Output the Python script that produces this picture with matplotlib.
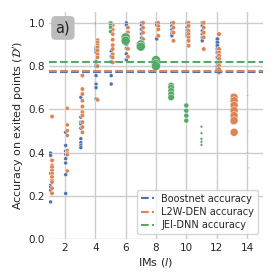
import matplotlib
matplotlib.use("Agg")
import matplotlib.pyplot as plt
import seaborn as sns

# accuracy of each exited point, grouped by IM (l = 1..14)
ims = list(range(1, 15))

boost_acc = [
    [0.398, 0.387, 0.304, 0.249, 0.241, 0.226, 0.172],
    [0.494, 0.433, 0.407, 0.392, 0.372, 0.352, 0.298, 0.211],
    [0.656, 0.564, 0.541, 0.533, 0.513, 0.464, 0.446, 0.433, 0.423],
    [0.886, 0.879, 0.871, 0.863, 0.82, 0.805, 0.799, 0.756, 0.717, 0.70, 0.648],
    [1.0, 0.99, 0.87, 0.845, 0.82, 0.756, 0.717],
    [1.0, 0.99, 0.90, 0.882, 0.857, 0.829],
    [1.0, 0.99, 0.97, 0.95, 0.93],
    [1.0, 0.99, 0.93, 0.925],
    [1.0, 0.986, 0.97, 0.955, 0.948, 0.94],
    [1.0, 0.98, 0.965, 0.95, 0.94],
    [1.0, 0.986, 0.963, 0.948, 0.933, 0.917],
    [0.925, 0.909, 0.894, 0.879, 0.863, 0.84, 0.817, 0.80, 0.786],
    [0.664, 0.645, 0.625, 0.60, 0.58, 0.56, 0.54],
    [0.664, 0.50, 0.40, 0.0],
]
l2w_acc = [
    [0.567, 0.364, 0.341, 0.333, 0.318, 0.304, 0.287, 0.272, 0.264, 0.235, 0.212],
    [0.605, 0.528, 0.502, 0.479, 0.41, 0.398, 0.39, 0.315],
    [0.756, 0.694, 0.671, 0.64, 0.613, 0.587, 0.571, 0.541, 0.518, 0.494],
    [0.92, 0.909, 0.897, 0.886, 0.871, 0.855, 0.84, 0.80, 0.644],
    [0.99, 0.968, 0.948, 0.922, 0.897, 0.879, 0.855, 0.84, 0.817],
    [0.978, 0.956, 0.94, 0.92, 0.88, 0.843],
    [1.0, 0.978, 0.955, 0.925],
    [1.0, 0.985, 0.97, 0.94],
    [1.0, 0.978, 0.955, 0.917],
    [1.0, 0.986, 0.963, 0.948, 0.933, 0.917, 0.894],
    [1.0, 0.978, 0.955, 0.933, 0.879],
    [0.948, 0.879, 0.863, 0.848, 0.833, 0.817, 0.802, 0.786, 0.771],
    [0.656, 0.64, 0.618, 0.594, 0.571, 0.548, 0.494],
    [0.60, 0.33],
]
jei_acc = [
    [], [], [],
    [1.0, 0.995],
    [1.0, 0.99, 0.98, 0.96],
    [0.933, 0.917],
    [0.90, 0.89],
    [0.828, 0.81, 0.80],
    [0.71, 0.70, 0.685, 0.67, 0.655],
    [0.618, 0.594, 0.571, 0.548],
    [0.52, 0.49, 0.464, 0.45, 0.436],
    [0.45, 0.42, 0.40, 0.38, 0.35, 0.32, 0.30, 0.28, 0.26, 0.24],
    [], [],
]

# marker size per IM (points^2)
boost_size = [8, 8, 8, 8, 8, 8, 8, 8, 8, 8, 8, 10, 10, 1.0]
l2w_size = [10, 9, 10, 10, 10, 10, 10, 10, 10, 10, 10, 11, 33, 1.0]
jei_size = [0, 0, 0, 2, 8, 42, 42, 42, 22, 13, 4, 0.3, 0, 0]

# overall accuracy of each method
boost_mean = 0.773
l2w_mean = 0.779
jei_mean = 0.82

sns.set_theme(style="whitegrid")
plt.rcParams["font.family"] = ["DejaVu Sans"]

fig = plt.figure(figsize=(2.8, 2.8), dpi=100)
ax = fig.add_axes([0.175, 0.146, 0.764, 0.811])

pal = sns.color_palette("deep")
series = [
    (boost_acc, boost_size, pal[0], 0.05, boost_mean, "Boostnet accuracy"),
    (l2w_acc, l2w_size, pal[1], 0.15, l2w_mean, "L2W-DEN accuracy"),
    (jei_acc, jei_size, pal[2], 0.0, jei_mean, "JEI-DNN accuracy"),
]

for accs, sizes, col, dx, mean, lab in series:
    xs, ys, ss = [], [], []
    for im, vals, s in zip(ims, accs, sizes):
        for v in vals:
            xs.append(im + dx)
            ys.append(v)
            ss.append(s)
    ax.scatter(xs, ys, s=ss, color=col, edgecolor="white", linewidth=0.3, zorder=2)

for accs, sizes, col, dx, mean, lab in series:
    ax.axhline(mean, color=col, ls="--", lw=1.5, label=lab, zorder=3)

ax.set_xlim(0.95, 15.05)
ax.set_ylim(0, 1.05)
ax.set_xticks([2, 4, 6, 8, 10, 12, 14])
ax.set_yticks([0.0, 0.2, 0.4, 0.6, 0.8, 1.0])
ax.tick_params(labelsize=7.5, length=0, pad=3)
for sp in ax.spines.values():
    sp.set_visible(False)

ax.set_xlabel(r"IMs ($l$)", fontsize=8, labelpad=2)
ax.set_ylabel(r"Accuracy on exited points ($\mathcal{D}'$)", fontsize=8, labelpad=2)

ax.text(0.065, 0.93, "a)", transform=ax.transAxes, fontsize=10.5, ha="center", va="center",
        bbox=dict(boxstyle="round,pad=0.3", facecolor="#bdbdbd", edgecolor="none"))

ax.legend(loc="lower right", fontsize=7, handlelength=1.3, borderpad=0.4, labelspacing=0.35,
          frameon=True)

fig.savefig("out.png", dpi=100)
